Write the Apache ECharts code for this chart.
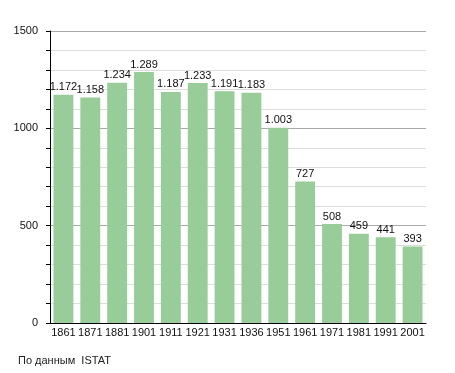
<!DOCTYPE html>
<html><head><meta charset="utf-8">
<script src="https://cdn.jsdelivr.net/npm/echarts@6/dist/echarts.min.js"></script>
<style>html,body{margin:0;padding:0;background:#fff}#c{width:455px;height:373px}</style>
</head><body><div id="c"></div>
<script>
const years = ['1861','1871','1881','1901','1911','1921','1931','1936','1951','1961','1971','1981','1991','2001'];
const population = [1172,1158,1234,1289,1187,1233,1191,1183,1003,727,508,459,441,393];
const yTicks = [0,500,1000,1500];
const sourceText = 'По данным  ISTAT';

const chart = echarts.init(document.getElementById('c'), null, {renderer:'canvas'});
const font = 'Liberation Sans, Arial, sans-serif';
chart.setOption({
  animation:false,
  textStyle:{fontFamily:font},
  grid:{left:50,right:29,top:31,bottom:50,containLabel:false},
  graphic:[{type:'text',left:18,top:355,style:{text:sourceText,font:'11px '+font,fill:'#222'}}],
  xAxis:{type:'category',data:years,
    axisLine:{lineStyle:{color:'#000',width:1}},
    axisTick:{show:false},
    axisLabel:{color:'#111',fontSize:11,margin:4,fontFamily:font,interval:0}},
  yAxis:{type:'value',min:yTicks[0],max:yTicks[yTicks.length-1],interval:500,
    axisLine:{show:true,lineStyle:{color:'#000',width:1}},
    axisTick:{show:true,length:4,lineStyle:{color:'#000'}},
    minorTick:{show:true,splitNumber:5,length:4,lineStyle:{color:'#000'}},
    splitLine:{show:true,lineStyle:{color:'#aaa',width:1}},
    minorSplitLine:{show:true,lineStyle:{color:'#ddd',width:1}},
    axisLabel:{color:'#111',fontSize:11,margin:12,fontFamily:font,formatter:v=>String(v)}},
  series:[{type:'bar',data:population,barCategoryGap:'26%',
    itemStyle:{color:'#98cc98'},
    label:{show:true,position:'top',distance:2,color:'#111',fontSize:11,fontFamily:font,
      formatter:p=>p.value>=1000?Math.floor(p.value/1000)+'.'+String(p.value%1000).padStart(3,'0'):String(p.value)}}]
});
</script></body></html>
